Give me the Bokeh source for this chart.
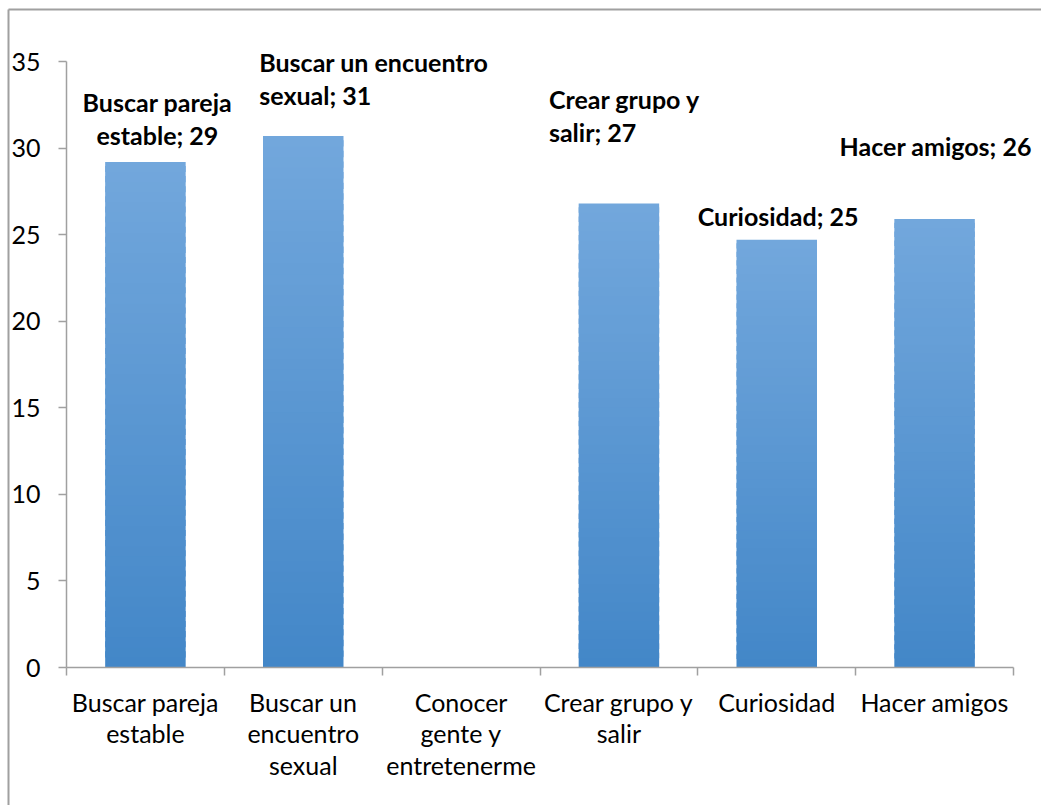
import math

from bokeh.embed import file_html
from bokeh.models import ColumnDataSource, FixedTicker, Label, LinearAxis, Range1d
from bokeh.plotting import figure
from bokeh.resources import INLINE

# --- data -------------------------------------------------------------
categories = [
    "Buscar pareja estable",
    "Buscar un encuentro sexual",
    "Conocer gente y entretenerme",
    "Crear grupo y salir",
    "Curiosidad",
    "Hacer amigos",
]
tick_labels = [
    "Buscar pareja\nestable",
    "Buscar un\nencuentro\nsexual",
    "Conocer\ngente y\nentretenerme",
    "Crear grupo y\nsalir",
    "Curiosidad",
    "Hacer amigos",
]
values = [29.2, 30.7, float("nan"), 26.8, 24.7, 25.9]
label_names = [
    "Buscar pareja\nestable",
    "Buscar un encuentro\nsexual",
    None,
    "Crear grupo y\nsalir",
    "Curiosidad",
    "Hacer amigos",
]
y_ticks = [0, 5, 10, 15, 20, 25, 30, 35]
y_max = 35

# --- label placement (pixel offsets from each bar's top centre) -------
label_dx = [12, -44, 0, -70, -79, -95]
label_dy = [43, 57, 0, 88, 24, 73]
label_align = ["center", "left", "left", "left", "left", "left"]

# --- page geometry (pixels) -------------------------------------------
W, H = 1041, 805
PLOT_LEFT, PLOT_RIGHT = 66, 1013     # x axis extent
PLOT_TOP, PLOT_BOTTOM = 61, 667      # y = y_max and y = 0
BORDER_X, BORDER_Y = 8, 9            # chart-area border (left / top)

FONT = "Lato"
FONT_SIZE = "25px"
AXIS_GREY = "#a0a0a0"
TOP_RGB = (0x72, 0xA7, 0xDC)
BOTTOM_RGB = (0x43, 0x87, 0xC8)
BAR_WIDTH = 0.51
SLICES = 50

n = len(categories)
centers = [i + 0.5 for i in range(n)]

# the frame fills the whole canvas; axes sit inside it at fixed locations
px_per_x = (PLOT_RIGHT - PLOT_LEFT) / n
px_per_y = (PLOT_BOTTOM - PLOT_TOP) / y_max
x_start = -PLOT_LEFT / px_per_x
x_end = n + (W - PLOT_RIGHT) / px_per_x
y_start = -(H - PLOT_BOTTOM) / px_per_y
y_end = y_max + PLOT_TOP / px_per_y

p = figure(
    width=W,
    height=H,
    x_range=Range1d(x_start, x_end),
    y_range=Range1d(y_start, y_end),
    x_axis_type=None,
    y_axis_type=None,
    output_backend="svg",
    toolbar_location=None,
    min_border=0,
)
p.outline_line_color = None
p.grid.visible = False
p.background_fill_color = "white"
p.border_fill_color = "white"

# chart-area border along the left and top edges
bx = x_start + BORDER_X / px_per_x
by = y_end - BORDER_Y / px_per_y
p.segment(x0=[bx, bx], y0=[y_start, by], x1=[bx, x_end], y1=[by, by],
          line_color=AXIS_GREY, line_width=2)

# bars, drawn as overlapping horizontal bands (bottom to top) for a
# vertical colour gradient without visible seams
xs, bottoms, tops, colors = [], [], [], []
for c, v in zip(centers, values):
    if v is None or math.isnan(v):
        continue
    for k in range(SLICES):
        t = k / (SLICES - 1)  # 0 at the bottom, 1 at the top
        rgb = tuple(round(b + (a - b) * t) for a, b in zip(TOP_RGB, BOTTOM_RGB))
        xs.append(c)
        bottoms.append(v * k / SLICES)
        tops.append(min(v, v * (k + 1.6) / SLICES))
        colors.append("#%02x%02x%02x" % rgb)

bars = ColumnDataSource(dict(x=xs, bottom=bottoms, top=tops, color=colors))
p.vbar(x="x", bottom="bottom", top="top", width=BAR_WIDTH, fill_color="color",
       line_color=None, source=bars)

# x axis: category names centred, tick marks on the boundaries
xa = LinearAxis(fixed_location=0, bounds=(0, n))
xa.ticker = FixedTicker(ticks=centers, minor_ticks=list(range(n + 1)))
xa.major_label_overrides = {c: t for c, t in zip(centers, tick_labels)}
xa.major_tick_out = 0
xa.major_tick_in = 0
xa.minor_tick_out = 8
xa.minor_tick_in = 0
xa.minor_tick_line_color = AXIS_GREY
xa.minor_tick_line_width = 1.5
xa.axis_line_color = AXIS_GREY
xa.axis_line_width = 1.5
xa.major_label_standoff = 11
xa.major_label_text_font = FONT
xa.major_label_text_font_size = FONT_SIZE
xa.major_label_text_color = "#000000"
xa.major_label_text_line_height = 1.06
p.add_layout(xa, "below")

# y axis
ya = LinearAxis(fixed_location=0, bounds=(0, y_max))
ya.ticker = FixedTicker(ticks=y_ticks, minor_ticks=[])
ya.major_tick_out = 8
ya.major_tick_in = 0
ya.major_tick_line_color = AXIS_GREY
ya.major_tick_line_width = 1.5
ya.axis_line_color = AXIS_GREY
ya.axis_line_width = 1.5
ya.major_label_standoff = 18
ya.major_label_text_font = FONT
ya.major_label_text_font_size = FONT_SIZE
ya.major_label_text_color = "#000000"
p.add_layout(ya, "left")

# data labels
for c, v, name, dx, dy, al in zip(centers, values, label_names, label_dx, label_dy, label_align):
    if name is None or math.isnan(v):
        continue
    p.add_layout(Label(
        x=c, y=v, x_offset=dx, y_offset=dy,
        text=f"{name}; {round(v)}",
        text_align=al, text_baseline="middle",
        text_font=FONT, text_font_style="bold", text_font_size=FONT_SIZE,
        text_color="#000000", text_line_height=1.1,
    ))

open("out.html", "w").write(file_html(p, INLINE))
